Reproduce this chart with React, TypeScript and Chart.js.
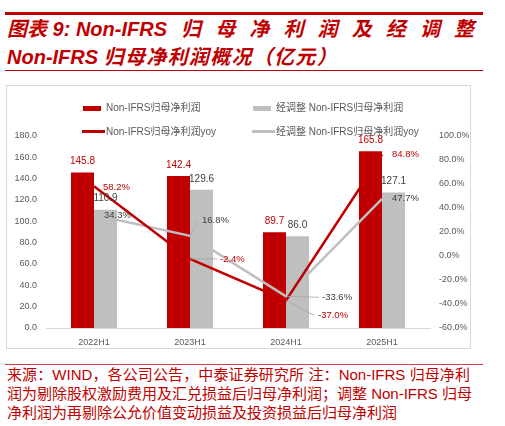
import { useEffect, useRef } from "react"
import { Chart, registerables } from "chart.js"

Chart.register(...registerables)

// 数据
const categories = ["2022H1", "2023H1", "2024H1", "2025H1"]
const nonIfrsProfit = [145.8, 142.4, 89.7, 165.8]
const adjustedProfit = [110.9, 129.6, 86.0, 127.1]
const nonIfrsYoy = [58.2, -2.4, -37.0, 84.8]
const adjustedYoy = [34.3, 16.8, -33.6, 47.7]

const seriesNames = [
  "Non-IFRS归母净利润",
  "经调整 Non-IFRS归母净利润",
  "Non-IFRS归母净利润yoy",
  "经调整 Non-IFRS归母净利润yoy",
]

const RED = "#c00000"
const GRAY = "#bfbfbf"
const AXIS_TEXT = "#595959"
const LABEL_GRAY = "#404040"

// label offsets for the yoy lines (dx to label's left edge, dy to its middle)
const redYoyOffsets = [
  [9, 1],
  [30, 0],
  [32, 15],
  [10, 0],
]
const grayYoyOffsets = [
  [10, 1],
  [12, -15],
  [36, 1],
  [10, 0],
]

const labelPlugin = {
  id: "dataLabels",
  afterDatasetsDraw(chart: Chart) {
    const ctx = chart.ctx
    ctx.save()
    chart.data.datasets.forEach((ds: any, i: number) => {
      const meta = chart.getDatasetMeta(i)
      meta.data.forEach((el: any, j: number) => {
        const v = ds.data[j] as number
        if (ds.type === "bar") {
          ctx.font = "10px 'Liberation Sans', Arial, sans-serif"
          ctx.fillStyle = i === 0 ? RED : LABEL_GRAY
          ctx.textAlign = "center"
          ctx.textBaseline = "middle"
          ctx.fillText(v.toFixed(1), el.x, el.y - 11)
        } else {
          const offs = i === 2 ? redYoyOffsets : grayYoyOffsets
          const [dx, dy] = offs[j]
          const lx = el.x + dx
          const ly = el.y + dy
          if (dx > 15 || Math.abs(dy) > 8) {
            ctx.strokeStyle = "#a6a6a6"
            ctx.lineWidth = 0.8
            ctx.beginPath()
            ctx.moveTo(el.x, el.y)
            if (Math.abs(dy) > 8) {
              ctx.lineTo(lx - 4, ly)
            } else {
              ctx.lineTo(lx - 3, ly)
            }
            ctx.stroke()
          }
          ctx.font = "9.5px 'Liberation Sans', Arial, sans-serif"
          ctx.fillStyle = i === 2 ? RED : LABEL_GRAY
          ctx.textAlign = "left"
          ctx.textBaseline = "middle"
          ctx.fillText(v.toFixed(1) + "%", lx, ly)
        }
      })
    })
    ctx.restore()
  },
}

function ComboChart() {
  const canvasRef = useRef<HTMLCanvasElement>(null)

  useEffect(() => {
    if (!canvasRef.current) return
    const tickFont = { family: "'Liberation Sans', Arial, sans-serif", size: 9 }

    const chart = new Chart(canvasRef.current, {
      type: "bar",
      data: {
        labels: categories,
        datasets: [
          {
            type: "bar",
            label: seriesNames[0],
            data: nonIfrsProfit,
            backgroundColor: RED,
            yAxisID: "y",
            order: 2,
            barPercentage: 1,
            categoryPercentage: 0.48,
          },
          {
            type: "bar",
            label: seriesNames[1],
            data: adjustedProfit,
            backgroundColor: GRAY,
            yAxisID: "y",
            order: 3,
            barPercentage: 1,
            categoryPercentage: 0.48,
          },
          {
            type: "line",
            label: seriesNames[2],
            data: nonIfrsYoy,
            borderColor: RED,
            borderWidth: 2.5,
            pointRadius: 0,
            tension: 0,
            yAxisID: "y1",
            order: 0,
          },
          {
            type: "line",
            label: seriesNames[3],
            data: adjustedYoy,
            borderColor: GRAY,
            borderWidth: 2.5,
            pointRadius: 0,
            tension: 0,
            yAxisID: "y1",
            order: 1,
          },
        ],
      } as any,
      options: {
        animation: false,
        responsive: true,
        maintainAspectRatio: false,
        layout: { padding: { top: 50, left: 0, right: 0, bottom: 0 } },
        plugins: {
          legend: { display: false },
          tooltip: { enabled: false },
        },
        scales: {
          x: {
            grid: { display: false, drawTicks: false },
            border: { display: true, color: "#d9d9d9", width: 1 },
            ticks: { color: AXIS_TEXT, font: tickFont, padding: 9 },
            afterFit: (s: any) => {
              s.height = 20
            },
          },
          y: {
            position: "left",
            min: 0,
            max: 180,
            grid: { display: false, drawTicks: false },
            border: { display: false },
            ticks: {
              stepSize: 20,
              color: AXIS_TEXT,
              font: tickFont,
              padding: 9,
              callback: (v: any) => Number(v).toFixed(1),
            },
            afterFit: (s: any) => {
              s.width = 39
            },
          },
          y1: {
            position: "right",
            min: -60,
            max: 100,
            grid: { display: false, drawTicks: false },
            border: { display: false },
            ticks: {
              stepSize: 20,
              color: AXIS_TEXT,
              font: tickFont,
              padding: 9,
              callback: (v: any) => Number(v).toFixed(1) + "%",
            },
            afterFit: (s: any) => {
              s.width = 41
            },
          },
        },
      } as any,
      plugins: [labelPlugin],
    })

    return () => chart.destroy()
  }, [])

  return <canvas ref={canvasRef} />
}

function LegendItem({ left, top, kind, color, text }: { left: number; top: number; kind: "bar" | "line"; color: string; text: string }) {
  return (
    <div style={{ position: "absolute", left, top, display: "flex", alignItems: "center", height: 12 }}>
      <div
        style={{
          width: kind === "bar" ? 18 : 23,
          height: kind === "bar" ? 5 : 2.5,
          background: color,
          marginRight: kind === "bar" ? 5 : 1,
        }}
      />
      <span style={{ fontSize: 10, color: AXIS_TEXT, whiteSpace: "nowrap", lineHeight: "12px" }}>{text}</span>
    </div>
  )
}

export default function App() {
  const titleFont = "'Liberation Sans', Arial, 'Noto Sans CJK SC', sans-serif"
  return (
    <div
      style={{
        position: "absolute",
        left: 0,
        top: 0,
        width: 505,
        height: 426,
        background: "#fff",
        overflow: "hidden",
        fontFamily: titleFont,
      }}
    >
      {/* 标题 */}
      <div style={{ position: "absolute", left: 5, top: 12, width: 478, height: 2.5, background: RED }} />
      <div
        style={{
          position: "absolute",
          left: 7,
          top: 15,
          width: 467,
          display: "flex",
          justifyContent: "space-between",
          color: RED,
          fontSize: 20,
          fontWeight: "bold",
          fontStyle: "italic",
          lineHeight: "28px",
          whiteSpace: "nowrap",
        }}
      >
        {["图表 9: Non-IFRS", "归", "母", "净", "利", "润", "及", "经", "调", "整"].map((t, i) => (
          <span key={i}>{t}</span>
        ))}
      </div>
      <div
        style={{
          position: "absolute",
          left: 7,
          top: 43,
          color: RED,
          fontSize: 20,
          fontWeight: "bold",
          fontStyle: "italic",
          lineHeight: "28px",
          whiteSpace: "nowrap",
        }}
      >
        Non-IFRS <span style={{ letterSpacing: 1.3 }}>归母净利润概况（亿元）</span>
      </div>
      <div style={{ position: "absolute", left: 5, top: 69.5, width: 478, height: 1.2, background: RED }} />

      {/* 图表 */}
      <div
        style={{
          position: "absolute",
          left: 6,
          top: 85,
          width: 465,
          height: 264,
          border: "1px solid #d9d9d9",
          boxSizing: "border-box",
        }}
      />
      <div style={{ position: "absolute", left: 7, top: 86, width: 464, height: 262 }}>
        <ComboChart />
      </div>
      <LegendItem left={83} top={102} kind="bar" color={RED} text={seriesNames[0]} />
      <LegendItem left={253} top={102} kind="bar" color={GRAY} text={seriesNames[1]} />
      <LegendItem left={82} top={125.5} kind="line" color={RED} text={seriesNames[2]} />
      <LegendItem left={252} top={125.5} kind="line" color={GRAY} text={seriesNames[3]} />

      {/* 注释 */}
      <div style={{ position: "absolute", left: 5, top: 363.5, width: 478, height: 1, background: "#d04040" }} />
      <div
        style={{
          position: "absolute",
          left: 7,
          top: 365,
          width: 463,
          color: RED,
          fontSize: 15,
          lineHeight: "19px",
        }}
      >
        <div style={{ textAlign: "justify", textAlignLast: "justify", whiteSpace: "nowrap" }}>
          来源：WIND，各公司公告，中泰证券研究所 注：Non-IFRS 归母净利
        </div>
        <div style={{ textAlign: "justify", textAlignLast: "justify", whiteSpace: "nowrap" }}>
          润为剔除股权激励费用及汇兑损益后归母净利润；调整 Non-IFRS 归母
        </div>
        <div style={{ whiteSpace: "nowrap" }}>净利润为再剔除公允价值变动损益及投资损益后归母净利润</div>
      </div>
    </div>
  )
}
